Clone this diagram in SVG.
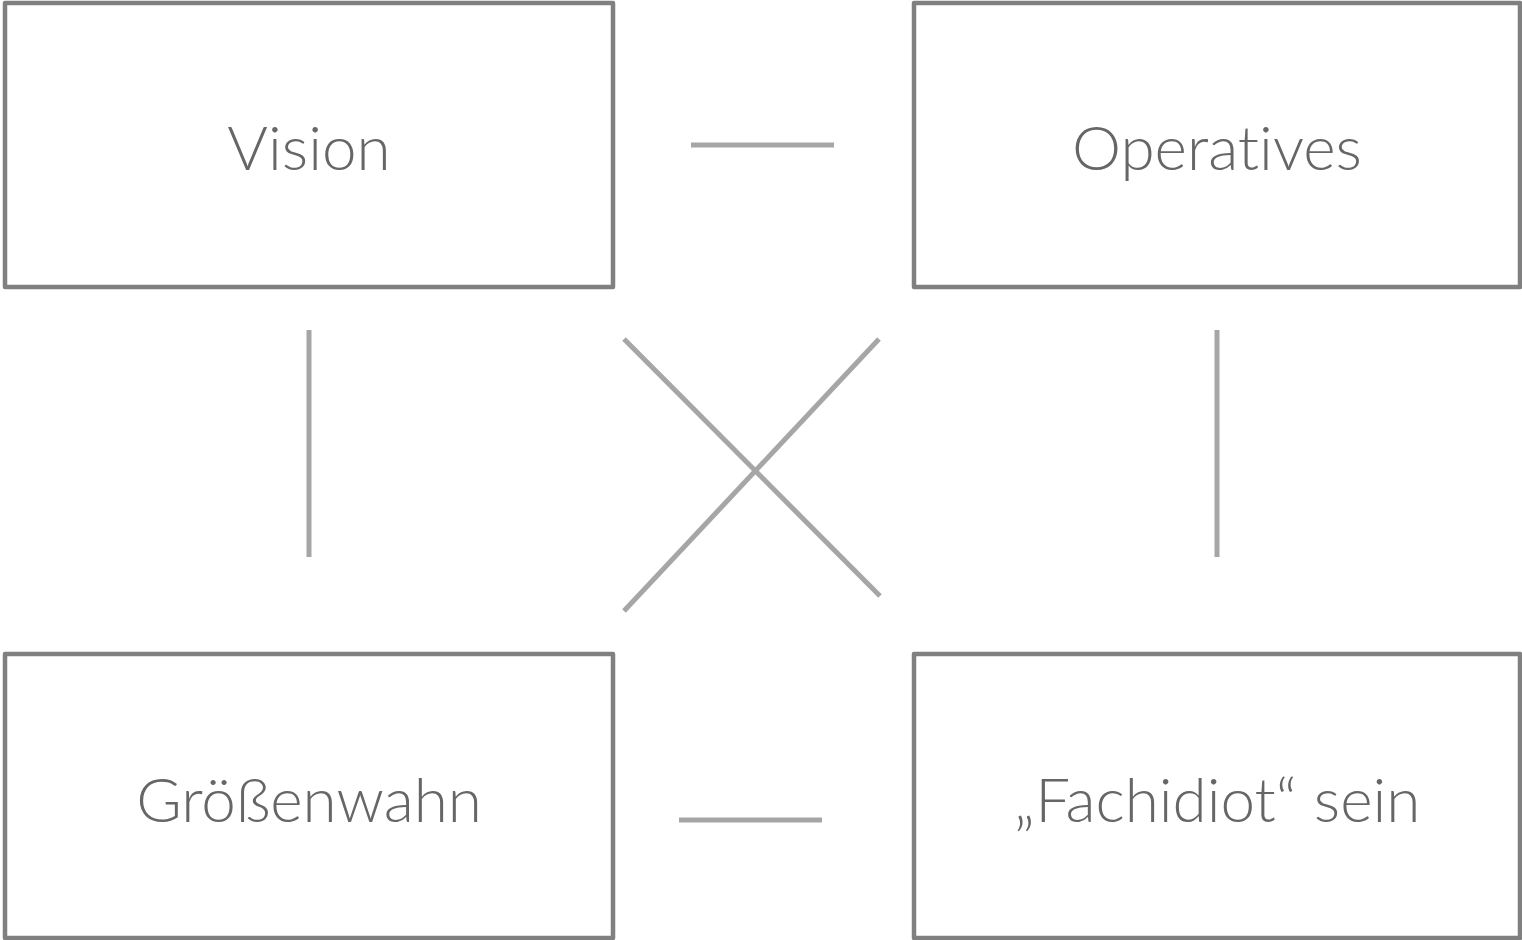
<svg xmlns="http://www.w3.org/2000/svg" width="1522" height="940" viewBox="0 0 1522 940">
<style>
.box{fill:#fff;stroke:#808080;stroke-width:4.5;stroke-linejoin:round}
.lbl{font-family:Lato,"Open Sans","Liberation Sans",sans-serif;font-weight:300;font-size:62px;fill:#666;text-anchor:middle;font-variant-ligatures:none;font-feature-settings:"liga" 0,"dlig" 0}
.con{stroke:#a6a6a6;stroke-width:5;fill:none}
</style>
<rect width="1522" height="940" fill="#fff"/>
<g id="connectors">
<line class="con" x1="691" y1="145" x2="834" y2="145"/>
<line class="con" x1="679" y1="820" x2="822" y2="820"/>
<line class="con" x1="309" y1="330" x2="309" y2="557"/>
<line class="con" x1="1217" y1="330" x2="1217" y2="557"/>
<line class="con" x1="624" y1="339" x2="880" y2="596"/>
<line class="con" x1="879" y1="339" x2="624" y2="611"/>
</g>
<g id="vision"><rect class="box" x="5" y="3" width="608" height="284"/><text class="lbl" x="309" y="170">Vision</text></g>
<g id="operatives"><rect class="box" x="914" y="3" width="606" height="284"/><text class="lbl" x="1217" y="170">Operatives</text></g>
<g id="groessenwahn"><rect class="box" x="5" y="654" width="608" height="284"/><text class="lbl" x="309" y="822">Größenwahn</text></g>
<g id="fachidiot"><rect class="box" x="914" y="654" width="606" height="284"/><text class="lbl" x="1217" y="822">„Fachidiot“ sein</text></g>
</svg>
